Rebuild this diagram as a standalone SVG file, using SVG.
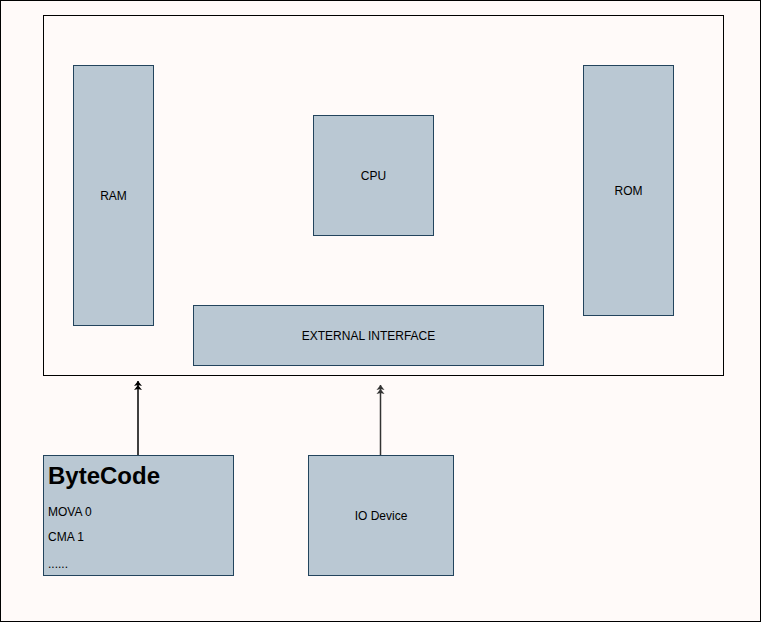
<svg xmlns="http://www.w3.org/2000/svg" width="761" height="622" viewBox="0 0 761 622">
<style>
.node{fill:#bac8d3;stroke:#23445d;stroke-width:1}
.lbl{font-family:"Liberation Sans",Arial,sans-serif;font-size:12px;fill:#000;text-anchor:middle;dominant-baseline:central}
.txt{font-family:"Liberation Sans",Arial,sans-serif;font-size:12px;fill:#000}
.edge{fill:none;stroke-width:1.5}
</style>
<defs>
<marker id="dblA" markerUnits="userSpaceOnUse" markerWidth="12" markerHeight="10" refX="11" refY="5" orient="auto" viewBox="0 0 12 10">
<path d="M11,5 L6,1 L7,5 L6,9 Z M7,5 L2,1 L3,5 L2,9 Z" fill="#000"/>
</marker>
<marker id="dblB" markerUnits="userSpaceOnUse" markerWidth="12" markerHeight="10" refX="11" refY="5" orient="auto" viewBox="0 0 12 10">
<path d="M11,5 L6,1 L7,5 L6,9 Z M7,5 L2,1 L3,5 L2,9 Z" fill="#333"/>
</marker>
</defs>
<rect x="0" y="0" width="761" height="622" fill="#fffaf9"/>
<rect x="0.5" y="0.5" width="760" height="621" fill="none" stroke="#000" stroke-width="1"/>
<g id="container"><rect x="43.5" y="15.5" width="680" height="360" fill="none" stroke="#000" stroke-width="1"/></g>
<g id="ram"><rect class="node" x="73.5" y="65.5" width="80" height="260"/><text class="lbl" x="113.5" y="196">RAM</text></g>
<g id="cpu"><rect class="node" x="313.5" y="115.5" width="120" height="120"/><text class="lbl" x="373.5" y="176">CPU</text></g>
<g id="rom"><rect class="node" x="583.5" y="65.5" width="90" height="250"/><text class="lbl" x="628.5" y="191">ROM</text></g>
<g id="ext"><rect class="node" x="193.5" y="305.5" width="350" height="60"/><text class="lbl" x="368.5" y="336">EXTERNAL INTERFACE</text></g>
<g id="bytecode"><rect class="node" x="43.5" y="455.5" width="190" height="120"/>
<text class="txt" x="48" y="484" style="font-size:24px;font-weight:bold">ByteCode</text>
<text class="txt" x="48" y="516">MOVA 0</text>
<text class="txt" x="48" y="541">CMA 1</text>
<text class="txt" x="48" y="568">......</text></g>
<g id="io"><rect class="node" x="308.5" y="455.5" width="145" height="120"/><text class="lbl" x="381" y="516">IO Device</text></g>
<g id="connectors">
<path class="edge" d="M138,455 L138,381" stroke="#000" marker-end="url(#dblA)"/>
<path class="edge" d="M380.5,455 L380.5,385" stroke="#333" marker-end="url(#dblB)"/>
</g>
</svg>
